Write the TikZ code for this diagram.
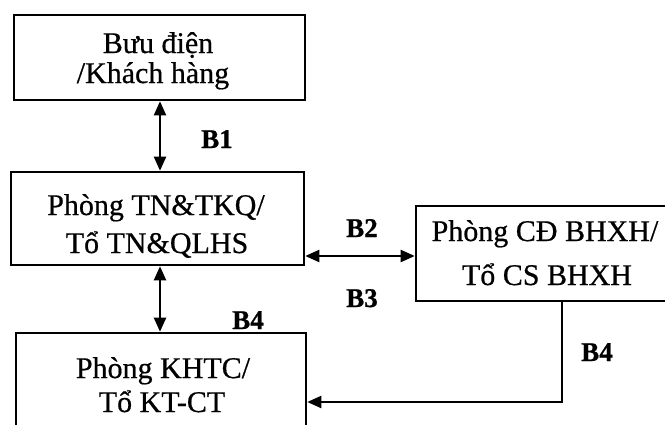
\documentclass[tikz,border=0pt]{standalone}
\usepackage{fontspec}
\setmainfont{Liberation Serif}
\usetikzlibrary{arrows.meta}
\begin{document}
\begin{tikzpicture}[x=1pt,y=-1pt,
  boxst/.style={draw, line width=2.6pt, inner sep=0pt},
  txt/.style={anchor=base, font=\fontsize{30}{36}\selectfont\addfontfeature{FakeBold=0.6}, inner sep=0pt},
  lbl/.style={anchor=base, font=\bfseries\fontsize{27}{32}\selectfont\addfontfeature{FakeBold=0.8}, inner sep=0pt},
  conn/.style={line width=2.2pt, {Triangle[length=14pt,width=12pt]}-{Triangle[length=14pt,width=12pt]}},
  oneway/.style={line width=2.2pt, line join=miter, -{Triangle[length=14pt,width=12pt]}}
  ]
\clip (0,0) rectangle (665,424);
% boxes
\node[boxst, minimum width=291pt, minimum height=85pt] (b1) at (159.5,57.5) {};
\node[boxst, minimum width=293pt, minimum height=93pt] (b2) at (157.5,218.5) {};
\node[boxst, minimum width=284pt, minimum height=95pt] (b3) at (558,253.5) {};
\node[boxst, minimum width=290pt, minimum height=117pt] (b4) at (161,391.5) {};
% texts
\node[txt] (t1a) at (158,53) {Bưu điện};
\node[txt] (t1b) at (153,83) {/Khách hàng};
\node[txt] (t2a) at (156,215) {Phòng TN\&TKQ/};
\node[txt] (t2b) at (157,253) {Tổ TN\&QLHS};
\node[txt] (t3a) at (545,241) {Phòng CĐ BHXH/};
\node[txt] (t3b) at (547,285) {Tổ CS BHXH};
\node[txt] (t4a) at (163,378) {Phòng KHTC/};
\node[txt] (t4b) at (162,412) {Tổ KT-CT};
% labels
\node[lbl] (l1) at (217,148) {B1};
\node[lbl] (l2) at (362,237) {B2};
\node[lbl] (l3) at (362,307) {B3};
\node[lbl] (l4) at (248,329) {B4};
\node[lbl] (l5) at (597,361) {B4};
% connectors
\coordinate (c1) at (160,0);
\coordinate (c2) at (0,256);
\coordinate (c3) at (562,0);
\coordinate (c4) at (0,402);
\draw[conn] (b1.south -| c1) -- (b2.north -| c1);
\draw[conn] (b2.east |- c2) -- (b3.west |- c2);
\draw[conn] (b2.south -| c1) -- (b4.north -| c1);
\draw[oneway] (b3.south -| c3) |- (b4.east |- c4);
\end{tikzpicture}
\end{document}
